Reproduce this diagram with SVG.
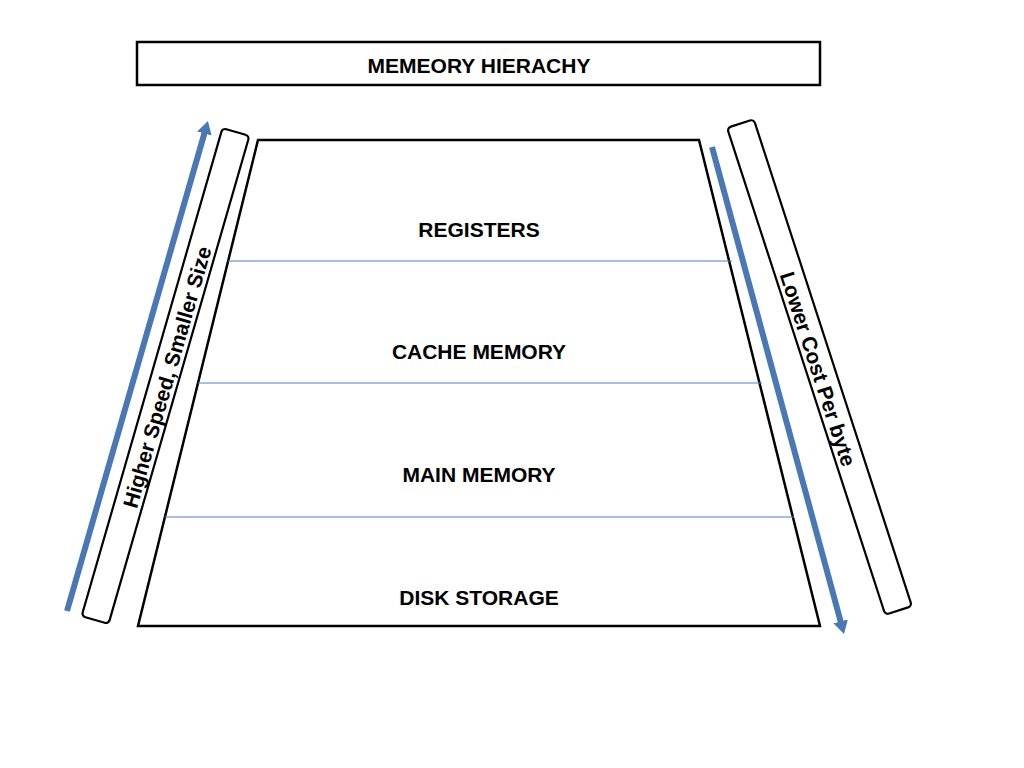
<svg xmlns="http://www.w3.org/2000/svg" width="1024" height="768" viewBox="0 0 1024 768">
<style>
.box{fill:#fff;stroke:#000;stroke-width:2.5}
.bar{fill:#fff;stroke:#000;stroke-width:2.2}
.div{stroke:#4f81bd;stroke-width:1.1}
.lbl{font-family:"Liberation Sans",Arial,sans-serif;font-weight:bold;font-size:21px;fill:#000;text-anchor:middle;dominant-baseline:central}
.side{font-family:"Liberation Sans",Arial,sans-serif;font-weight:bold;font-size:21px;fill:#000;text-anchor:middle;dominant-baseline:central}
.arrow{stroke:#4a78b4;stroke-width:6;fill:none}
</style>
<defs>
<marker id="ah" markerUnits="userSpaceOnUse" markerWidth="16" markerHeight="16" refX="3" refY="7.5" orient="auto">
<path d="M0,0 L13,7.5 L0,15 z" fill="#4a78b4"/>
</marker>
</defs>
<g id="title">
<rect class="box" x="137" y="42" width="683" height="43"/>
<text class="lbl" x="479" y="65">MEMEORY HIERACHY</text>
</g>
<g id="pyramid">
<polygon class="box" points="258,140 699,140 820,626 138,626"/>
<line class="div" x1="228" y1="261" x2="732" y2="261"/>
<line class="div" x1="198" y1="383" x2="762" y2="383"/>
<line class="div" x1="165" y1="517" x2="794" y2="517"/>
</g>
<g id="registers"><text class="lbl" x="479" y="229">REGISTERS</text></g>
<g id="cache"><text class="lbl" x="479" y="351">CACHE MEMORY</text></g>
<g id="main"><text class="lbl" x="479" y="474">MAIN MEMORY</text></g>
<g id="disk"><text class="lbl" x="479" y="597">DISK STORAGE</text></g>
<g id="left-bar">
<rect class="bar" x="-14" y="-254" width="28" height="508" rx="4" transform="translate(165.5,376) rotate(16.1)"/>
<text class="side" transform="translate(167,377) rotate(-73.9)">Higher Speed, Smaller Size</text>
</g>
<g id="right-bar">
<rect class="bar" x="-14" y="-256" width="28" height="512" rx="4" transform="translate(819.5,367) rotate(-18)"/>
<text class="side" transform="translate(818,369) rotate(72)">Lower Cost Per byte</text>
</g>
<g id="connectors">
<line class="arrow" x1="67" y1="611" x2="205.2" y2="130.6" marker-end="url(#ah)"/>
<line class="arrow" x1="712" y1="147" x2="841.4" y2="624.3" marker-end="url(#ah)"/>
</g>
</svg>
